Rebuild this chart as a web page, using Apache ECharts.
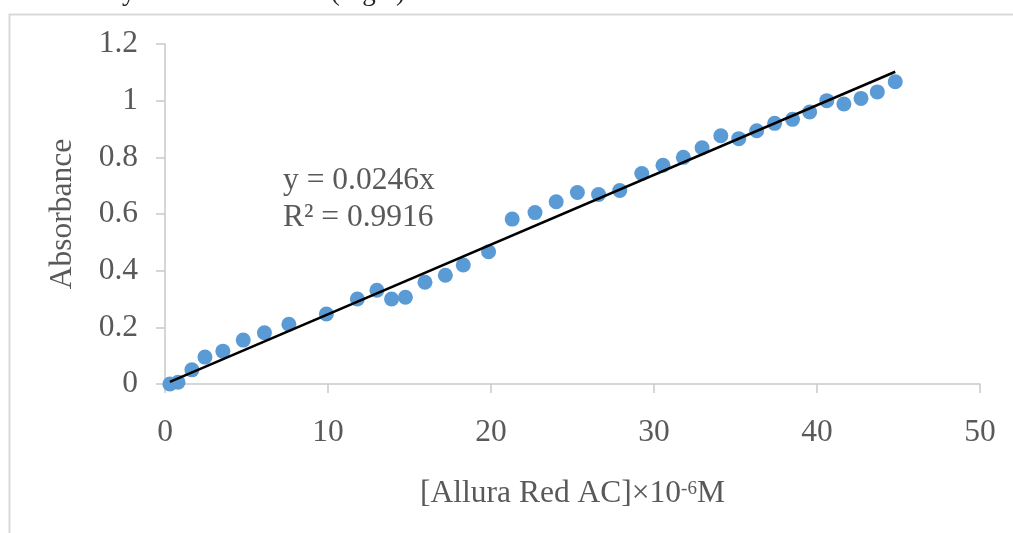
<!DOCTYPE html>
<html>
<head>
<meta charset="utf-8">
<script src="https://cdn.jsdelivr.net/npm/echarts@6/dist/echarts.min.js"></script>
<style>
html, body { margin: 0; padding: 0; background: #fff; }
#chart { width: 1013px; height: 533px; }
</style>
</head>
<body>
<div id="chart"></div>
<script>
// concentration (x 10^-6 M) and absorbance
var conc = [0.3, 0.8, 1.65, 2.45, 3.55, 4.8, 6.1, 7.6, 9.9, 11.8, 13.0, 13.9, 14.75, 15.95, 17.2, 18.3,
    19.85, 21.3, 22.7, 24.0, 25.3, 26.6, 27.9, 29.25, 30.55, 31.8, 32.95, 34.1, 35.2, 36.3, 37.4,
    38.5, 39.55, 40.6, 41.65, 42.7, 43.7, 44.8];
var absorbance = [0.0, 0.006, 0.05, 0.095, 0.116, 0.155, 0.181, 0.211, 0.247, 0.3, 0.331, 0.3, 0.306,
    0.359, 0.384, 0.42, 0.467, 0.582, 0.605, 0.643, 0.676, 0.669, 0.683, 0.743, 0.772, 0.8, 0.834,
    0.876, 0.866, 0.894, 0.92, 0.934, 0.96, 1.0, 0.988, 1.008, 1.031, 1.067];
// linear trendline ends (y = 0.0246x)
var trendX = [0.3, 44.8];
var trendY = [0.0074, 1.102];
var eqLines = ['y = 0.0246x', 'R² = 0.9916'];

var points = conc.map(function (x, i) { return [x, absorbance[i]]; });
var trend = trendX.map(function (x, i) { return [x, trendY[i]]; });

var font = 'Liberation Serif, Times New Roman, serif';
var grey = '#595959';
var axisGrey = '#c9c9c9';
var fs = 31.5;

var myChart = echarts.init(document.getElementById('chart'));
var option = {
    animation: false,
    backgroundColor: '#fff',
    grid: {
        left: 165,
        right: 33,
        top: 44,
        bottom: 149
    },
    xAxis: {
        type: 'value',
        min: 0,
        max: 50,
        interval: 10,
        name: '[Allura Red AC]×10{sup|-6}M',
        nameLocation: 'middle',
        nameGap: 94,
        nameTextStyle: {
            color: grey,
            fontFamily: font,
            fontSize: fs,
            rich: {
                sup: { fontSize: 19, fontFamily: font, color: grey, verticalAlign: 'top', padding: [2, 0, 0, 0] }
            }
        },
        axisLine: { lineStyle: { color: axisGrey, width: 1.5 } },
        axisTick: { show: true, inside: false, length: 9, lineStyle: { color: axisGrey, width: 1.5 } },
        axisLabel: { color: grey, fontFamily: font, fontSize: fs, margin: 33 },
        splitLine: { show: false }
    },
    yAxis: {
        type: 'value',
        min: 0,
        max: 1.2,
        interval: 0.2,
        name: 'Absorbance',
        nameLocation: 'middle',
        nameGap: 86,
        nameTextStyle: { color: grey, fontFamily: font, fontSize: fs },
        axisLine: { show: true, lineStyle: { color: axisGrey, width: 1.5 } },
        axisTick: { show: true, inside: false, length: 9, lineStyle: { color: axisGrey, width: 1.5 } },
        axisLabel: { color: grey, fontFamily: font, fontSize: fs, margin: 27 },
        splitLine: { show: false }
    },
    graphic: [
        {
            type: 'rect',
            left: 7,
            top: 12,
            shape: { width: 1100, height: 600 },
            style: { fill: 'none', stroke: '#d9d9d9', lineWidth: 2 },
            silent: true
        },
        {
            type: 'text',
            left: 0,
            top: -21,
            style: { text: '10⁻⁶ M obeys from Beer\'s law (Fig.3).', fill: '#222', font: '27px ' + font }
        },
        {
            type: 'text',
            left: 283,
            top: 162,
            style: { text: eqLines.join('\n'), fill: grey, font: fs + 'px ' + font, lineHeight: 37 }
        }
    ],
    series: [
        {
            type: 'scatter',
            data: points,
            symbolSize: 15,
            itemStyle: { color: '#5b9bd5', opacity: 1 }
        },
        {
            type: 'line',
            data: trend,
            symbol: 'none',
            lineStyle: { color: '#000', width: 2.5 },
            z: 3
        }
    ]
};
myChart.setOption(option);
</script>
</body>
</html>
